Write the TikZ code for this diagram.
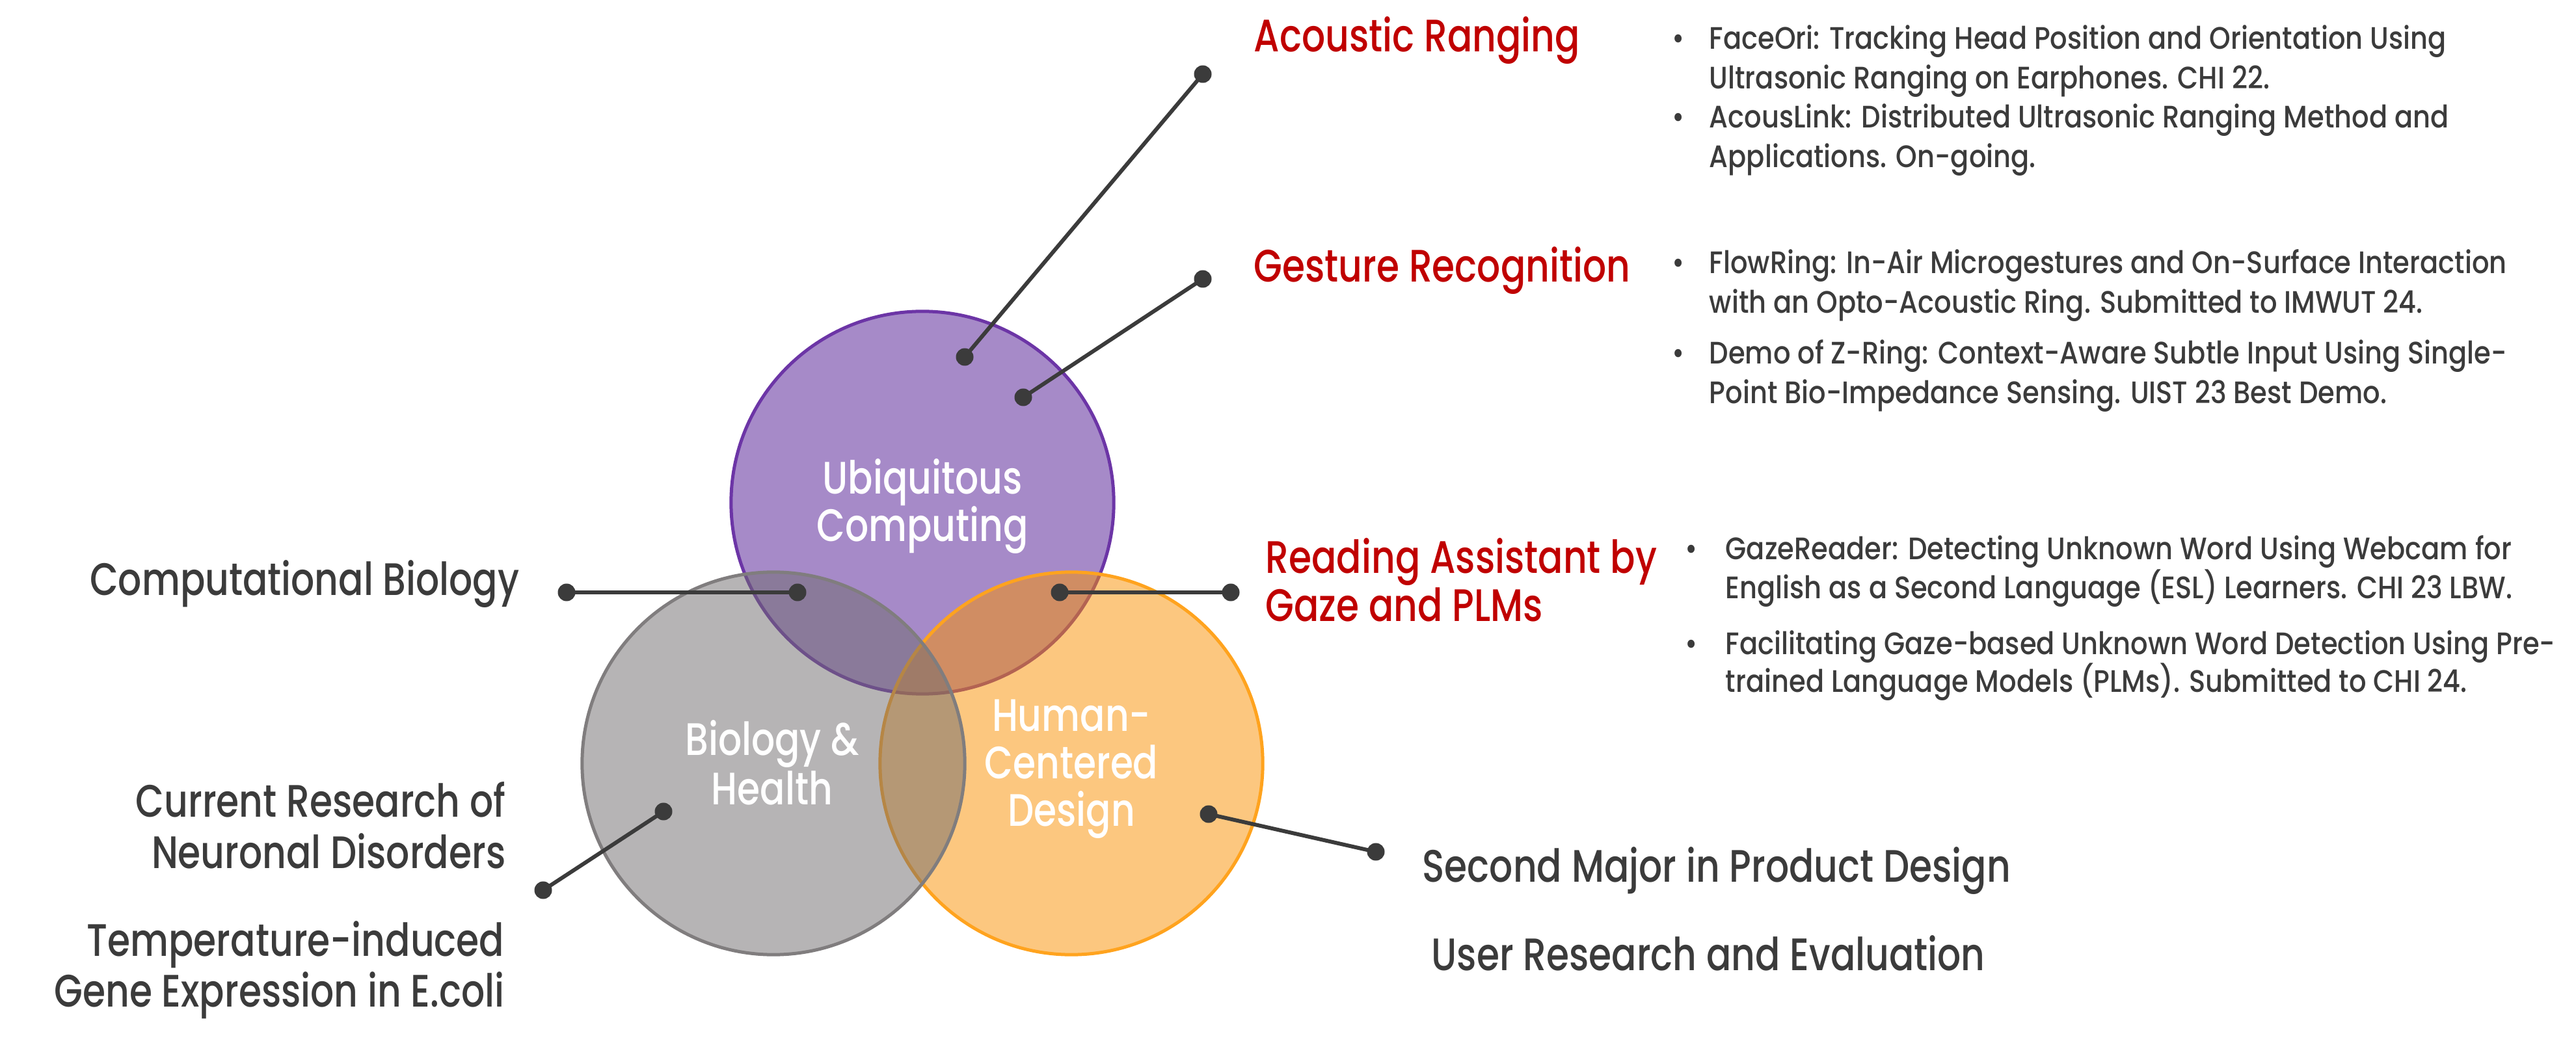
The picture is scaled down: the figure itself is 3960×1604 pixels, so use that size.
\documentclass[tikz,border=0pt]{standalone}
\usepackage{fontspec}
\setmainfont{Poppins}
\newfontfamily\labelfont[FakeStretch=0.81]{Poppins Medium}
\newfontfamily\itemfont[FakeStretch=0.87]{Poppins Medium}

\definecolor{inkgray}{HTML}{3B3B3B}
\definecolor{headred}{HTML}{C00000}
\definecolor{ubiline}{HTML}{6C35A6}
\definecolor{ubifill}{HTML}{4F1793}
\definecolor{hcdline}{HTML}{FFA31E}
\definecolor{hcdfill}{HTML}{FB9100}
\definecolor{bioline}{HTML}{807D7E}
\definecolor{biofill}{HTML}{6F6B6D}

\tikzset{
  area/.style={circle, minimum size=5.88cm, inner sep=0pt, line width=0.05cm,
    fill opacity=0.5, draw opacity=1},
  dot/.style={circle, fill=inkgray, inner sep=0pt, minimum size=0.27cm},
  link/.style={draw=inkgray, line width=0.06cm},
  big/.style={font=\labelfont\fontsize{19.9}{24}\selectfont, inner sep=0pt},
  lefttext/.style={big, text=inkgray, anchor=base east},
  righttext/.style={big, text=inkgray, anchor=base west},
  head/.style={big, text=headred, anchor=base west},
  inner/.style={big, text=white, anchor=base},
  item/.style={font=\itemfont\fontsize{13.6}{16}\selectfont, text=inkgray, inner sep=0pt, anchor=base west},
  bullet/.style={font=\itemfont\fontsize{13.6}{16}\selectfont, text=inkgray, inner sep=0pt, anchor=base},
}

\begin{document}
\begin{tikzpicture}[x=0.01cm, y=-0.01cm]
\path[use as bounding box, fill=white] (0,0) rectangle (3960,1604);

% three overlapping research areas
\node[area, draw=ubiline, fill=ubifill] (uc) at (1418,773) {};
\node[area, draw=hcdline, fill=hcdfill] (hc) at (1647,1174) {};
\node[area, draw=bioline, fill=biofill] (bh) at (1189,1174) {};

% connector end points
\node[dot] (ac1) at (1849,114) {};
\node[dot] (ac2) at (1483,549) {};
\node[dot] (ge1) at (1849,429) {};
\node[dot] (ge2) at (1573,611) {};
\node[dot] (cb1) at (871,911) {};
\node[dot] (cb2) at (1226,911) {};
\node[dot] (ra1) at (1629,911) {};
\node[dot] (ra2) at (1892,911) {};
\node[dot] (bl1) at (835,1369) {};
\node[dot] (bl2) at (1020,1248) {};
\node[dot] (pd1) at (1858,1252) {};
\node[dot] (pd2) at (2115,1310) {};

\draw[link] (ac1.center) -- (ac2.center);
\draw[link] (ge1.center) -- (ge2.center);
\draw[link] (cb1.center) -- (cb2.center);
\draw[link] (ra1.center) -- (ra2.center);
\draw[link] (bl1.center) -- (bl2.center);
\draw[link] (pd1.center) -- (pd2.center);

% area names
\node[inner] (uc1) at (1418,760) {Ubiquitous};
\node[inner] (uc2) at (1418,833) {Computing};
\node[inner] (bh1) at (1187,1162) {Biology \&};
\node[inner] (bh2) at (1187,1237) {Health};
\node[inner] (hc1) at (1647,1124) {Human-};
\node[inner] (hc2) at (1647,1197) {Centered};
\node[inner] (hc3) at (1647,1270) {Design};

% topics
\node[head] (ar) at (1927,80) {Acoustic Ranging};
\node[head] (gr) at (1927,434) {Gesture Recognition};
\node[head] (rd1) at (1945,882) {Reading Assistant by};
\node[head] (rd2) at (1945,956) {Gaze and PLMs};

\node[lefttext] (cb) at (799,916) {Computational Biology};
\node[lefttext] (nd1) at (778,1256) {Current Research of};
\node[lefttext] (nd2) at (778,1335) {Neuronal Disorders};
\node[lefttext] (ge1t) at (776,1470) {Temperature-induced};
\node[lefttext] (ge2t) at (776,1548) {Gene Expression in E.coli};

\node[righttext] (pd) at (2186,1356) {Second Major in Product Design};
\node[righttext] (ur) at (2200,1492) {User Research and Evaluation};

% publications
\node[bullet] (b1) at (2580,76) {•};
\node[item] (p1a) at (2627,76) {FaceOri: Tracking Head Position and Orientation Using};
\node[item] (p1b) at (2627,137) {Ultrasonic Ranging on Earphones. CHI 22.};
\node[bullet] (b2) at (2580,197) {•};
\node[item] (p2a) at (2627,197) {AcousLink: Distributed Ultrasonic Ranging Method and};
\node[item] (p2b) at (2627,258) {Applications. On-going.};

\node[bullet] (b3) at (2580,421) {•};
\node[item] (p3a) at (2627,421) {FlowRing: In-Air Microgestures and On-Surface Interaction};
\node[item] (p3b) at (2627,482) {with an Opto-Acoustic Ring. Submitted to IMWUT 24.};
\node[bullet] (b4) at (2580,560) {•};
\node[item] (p4a) at (2627,560) {Demo of Z-Ring: Context-Aware Subtle Input Using Single-};
\node[item] (p4b) at (2627,621) {Point Bio-Impedance Sensing. UIST 23 Best Demo.};

\node[bullet] (b5) at (2600,861) {•};
\node[item] (p5a) at (2652,861) {GazeReader: Detecting Unknown Word Using Webcam for};
\node[item] (p5b) at (2652,921) {English as a Second Language (ESL) Learners. CHI 23 LBW.};
\node[bullet] (b6) at (2600,1007) {•};
\node[item] (p6a) at (2652,1007) {Facilitating Gaze-based Unknown Word Detection Using Pre-};
\node[item] (p6b) at (2652,1065) {trained Language Models (PLMs). Submitted to CHI 24.};
\end{tikzpicture}
\end{document}
